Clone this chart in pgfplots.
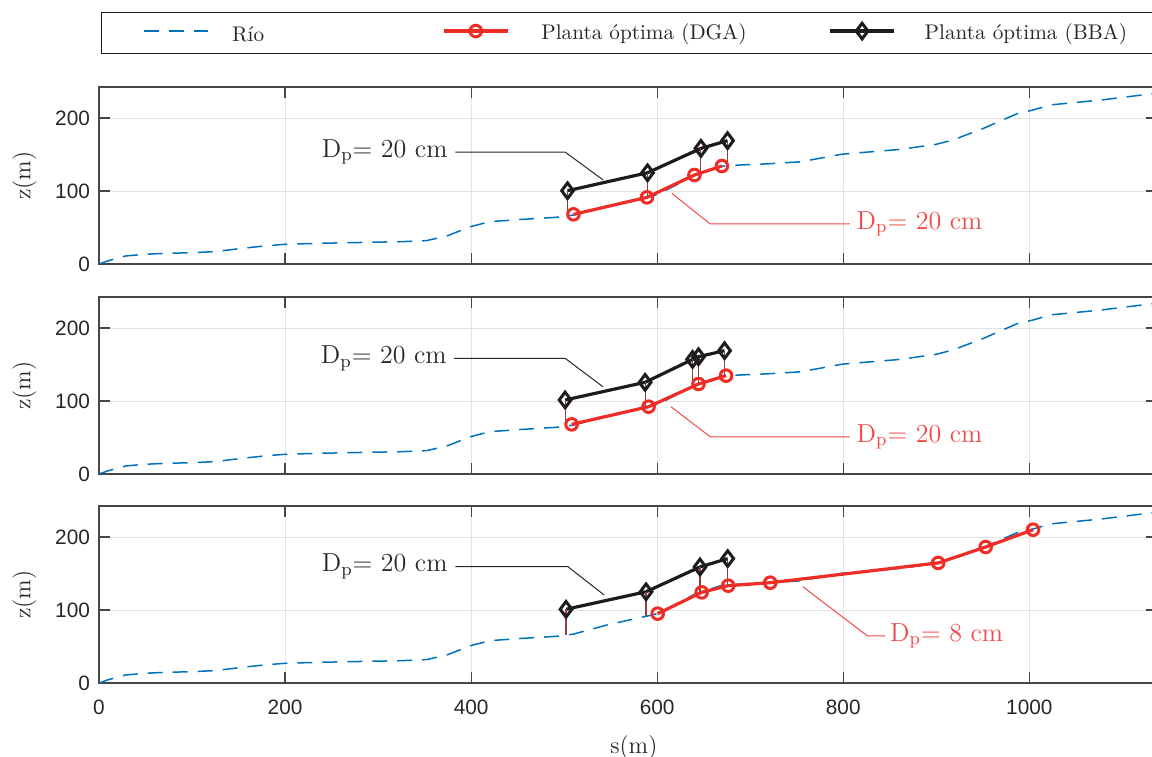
\documentclass[border=0pt]{standalone}
\usepackage{pgfplots}
\usepackage{pgfplotstable}
\pgfplotsset{compat=1.18}
\usepackage{fontspec}
\newfontfamily\arial{Liberation Sans}

\definecolor{rioc}{RGB}{0,114,189}
\definecolor{dgac}{RGB}{238,45,38}
\definecolor{bbac}{RGB}{28,28,28}
\definecolor{stemc}{RGB}{150,62,62}
\definecolor{annred}{RGB}{242,72,72}
\definecolor{annblk}{RGB}{40,40,40}
\definecolor{gridc}{RGB}{226,226,226}
\definecolor{axc}{RGB}{70,70,70}
\definecolor{tickc}{RGB}{38,38,38}

\pgfplotstableread{
s z
0 0
10 4.5
28.7 11
50 13.4
71.7 14.6
100 15.5
125 17
154 21.5
180 25
200 27
235 28.3
269 29.2
323 30.5
352 32
374 38.4
399 51
420 58
453 61
492 64
510 67
546 79.5
592 92.5
600 95
620 108
640 121.5
648 124.3
660 130
670 134
690 135.7
721 137.4
754 140
799 150.5
861 157
900 164
918 170
951 186
987 206
1004 211
1023 218
1076 224.5
1137 234
}\rio

\tikzset{
  annb/.style={draw=annblk, line width=0.5pt},
  annr/.style={draw=annred, line width=0.5pt},
}

\pgfplotsset{
  panel/.style={
    scale only axis, width=528.9pt, height=88.5pt,
    at={(49.5pt,#1)}, anchor=south west,
    xmin=0, xmax=1137, ymin=0, ymax=242.5,
    xtick={0,200,...,1000}, ytick={0,100,200},
    grid=major, major grid style={draw=gridc, line width=0.5pt},
    axis line style={draw=axc, line width=0.6pt},
    tick style={draw=axc, line width=0.6pt},
    major tick length=5.5pt, tick align=inside,
    ticklabel style={font=\arial\fontsize{10.4}{12}\selectfont, text=tickc},
    xticklabel style={yshift=-5pt},
    yticklabel style={xshift=-1pt},
    /pgf/number format/assume math mode=true,
    /pgf/number format/1000 sep={},
    ylabel={z(m)},
    ylabel style={at={(axis description cs:-0.0705,0.5)}, anchor=center,
      font=\fontsize{12}{14}\selectfont, text=tickc},
    unbounded coords=jump,
  },
  rioline/.style={rioc, line width=0.75pt, dash pattern=on 7.5pt off 5pt, no markers},
  dgaline/.style={dgac, line width=1.6pt, mark=o, mark size=2.9pt,
    mark options={solid, line width=1.5pt, fill=white}},
  bbaline/.style={bbac, line width=1.6pt, mark=diamond, mark size=3.9pt,
    mark options={solid, line width=1.5pt, fill=white}},
  stem/.style={stemc, line width=0.55pt, no markers, forget plot},
}

\begin{document}
\begin{tikzpicture}
\useasboundingbox (0,0) rectangle (576pt,378pt);

% ---------- panel 1
\begin{axis}[panel=246pt, xticklabels=\empty,
  legend columns=3,
  legend style={at={(0.0019,1.4237)}, anchor=north west,
    draw=bbac, line width=0.6pt, fill=white,
    font=\fontsize{10.6}{12}\selectfont, text=tickc,
    inner xsep=21pt, inner ysep=4.5pt,
    nodes={inner sep=1pt, anchor=west, yshift=-1pt},
    /tikz/column 1/.style={column sep=10.5pt},
    /tikz/column 2/.style={column sep=88pt},
    /tikz/column 3/.style={column sep=15pt},
    /tikz/column 4/.style={column sep=40pt},
    /tikz/column 5/.style={column sep=13.5pt}},
  legend image code/.code={\draw[mark repeat=2,mark phase=2] plot coordinates {(0pt,0pt) (16pt,0pt) (32pt,0pt)};},
]
\addplot[rioline] table {\rio};
\addlegendentry{\raisebox{-3pt}{Río}}
\addplot[dgaline] coordinates {(510,68) (589,91.3) (640,121.9) (669.5,134.2)};
\addlegendentry{Planta óptima (DGA)}
\addplot[bbaline] coordinates {(503.6,100.4) (589.6,125) (647,158.4) (675.6,169)};
\addlegendentry{Planta óptima (BBA)}
\addplot[stem] coordinates {(503.6,100.4) (503.6,65.5) (503.6,nan) (589.6,125) (589.6,92) (589.6,nan) (647,158.4) (647,124) (647,nan) (675.6,169) (675.6,134.5)};
\draw[annb] (axis cs:383,153.4) -- (axis cs:501,153.4) -- (axis cs:542,115);
\node[text=annblk, anchor=east, inner sep=0pt, font=\fontsize{13}{15}\selectfont] at (axis cs:375,153.4) {D$_\mathrm{p}$= 20 cm};
\draw[annr] (axis cs:615.8,96.8) -- (axis cs:657,54.8) -- (axis cs:807,54.8);
\node[text=annred, anchor=west, inner sep=0pt, font=\fontsize{13}{15}\selectfont] at (axis cs:814,54.8) {D$_\mathrm{p}$= 20 cm};
\end{axis}

% ---------- panel 2
\begin{axis}[panel=141pt, xticklabels=\empty]
\addplot[rioline] table {\rio};
\addplot[dgaline] coordinates {(508,68) (590.7,92.2) (644.4,123.3) (674,134.7)};
\addplot[bbaline] coordinates {(501,101.4) (587,125.6) (638,157) (644.4,160.7) (672.4,169)};
\addplot[stem] coordinates {(501,101.4) (501,65) (501,nan) (587,125.6) (587,92) (587,nan) (638,157) (638,121) (638,nan) (644.4,160.7) (644.4,123) (644.4,nan) (672.4,169) (672.4,134.5)};
\draw[annb] (axis cs:381.7,158.5) -- (axis cs:501,158.5) -- (axis cs:541.6,119.6);
\node[text=annblk, anchor=east, inner sep=0pt, font=\fontsize{13}{15}\selectfont] at (axis cs:374,158.5) {D$_\mathrm{p}$= 20 cm};
\draw[annr] (axis cs:614.7,92.2) -- (axis cs:657,51) -- (axis cs:807,51);
\node[text=annred, anchor=west, inner sep=0pt, font=\fontsize{13}{15}\selectfont] at (axis cs:814,51) {D$_\mathrm{p}$= 20 cm};
\end{axis}

% ---------- panel 3
\begin{axis}[panel=36.5pt,
  xlabel={s(m)},
  xlabel style={at={(axis description cs:0.5,0)}, anchor=center, yshift=-32.5pt, xshift=3pt,
    font=\fontsize{12}{14}\selectfont, text=tickc}]
\addplot[rioline] table {\rio};
\addplot[dgaline] coordinates {(600.5,95) (647.8,124.2) (676.3,133.3) (721.5,137.4) (902,164.5) (953,186.3) (1004,210)};
\addplot[bbaline] coordinates {(502,101) (588,125) (646,159) (675.8,170.5)};
\addplot[stem] coordinates {(502,101) (502,65.5) (502,nan) (588,125) (588,92) (588,nan) (646,159) (646,124) (646,nan) (675.8,170.5) (675.8,134)};
\draw[annb] (axis cs:383,159.4) -- (axis cs:504,159.4) -- (axis cs:543,120.5);
\node[text=annblk, anchor=east, inner sep=0pt, font=\fontsize{13}{15}\selectfont] at (axis cs:375,159.4) {D$_\mathrm{p}$= 20 cm};
\draw[annr] (axis cs:756.5,132) -- (axis cs:826,64.4) -- (axis cs:845,64.4);
\node[text=annred, anchor=west, inner sep=0pt, font=\fontsize{13}{15}\selectfont] at (axis cs:850,64.4) {D$_\mathrm{p}$= 8 cm};
\end{axis}
\end{tikzpicture}
\end{document}
